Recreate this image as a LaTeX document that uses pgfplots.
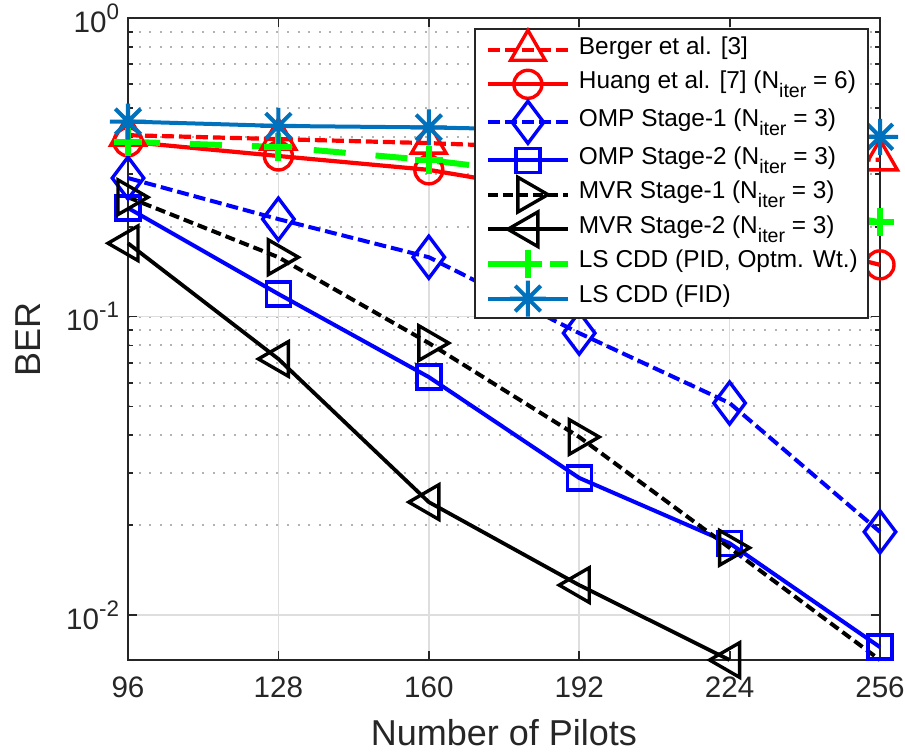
\documentclass[border=0pt]{standalone}
\usepackage{pgfplots}
\pgfplotsset{compat=1.18}
\usepackage{fontspec}
\setmainfont{Liberation Sans}

\definecolor{fidblue}{rgb}{0,0.447,0.741}
\definecolor{axisgray}{rgb}{0.15,0.15,0.15}

% subscript "iter" as set in the legend
\newcommand{\iter}{\raisebox{-4.5bp}{\fontsize{9.8bp}{10bp}\selectfont iter}}
% exponent of a decade tick label
\newcommand{\dexp}[1]{\raisebox{6.5bp}{\fontsize{11.2bp}{11bp}\selectfont #1}}

% eight-armed asterisk (plus and cross combined)
\pgfdeclareplotmark{star8}{%
  \pgfpathmoveto{\pgfqpoint{-\pgfplotmarksize}{0pt}}%
  \pgfpathlineto{\pgfqpoint{\pgfplotmarksize}{0pt}}%
  \pgfpathmoveto{\pgfqpoint{0pt}{-\pgfplotmarksize}}%
  \pgfpathlineto{\pgfqpoint{0pt}{\pgfplotmarksize}}%
  \pgfpathmoveto{\pgfqpoint{-0.707\pgfplotmarksize}{-0.707\pgfplotmarksize}}%
  \pgfpathlineto{\pgfqpoint{0.707\pgfplotmarksize}{0.707\pgfplotmarksize}}%
  \pgfpathmoveto{\pgfqpoint{-0.707\pgfplotmarksize}{0.707\pgfplotmarksize}}%
  \pgfpathlineto{\pgfqpoint{0.707\pgfplotmarksize}{-0.707\pgfplotmarksize}}%
  \pgfusepathqstroke}

\begin{document}
\begin{tikzpicture}
\begin{axis}[
  name=ax,
  scale only axis,
  width=376bp, height=321bp,
  xmin=96, xmax=256,
  ymode=log, ymin=0.00707, ymax=1,
  clip=false,
  xtick={96,128,160,192,224,256},
  ytick={0.01,0.1,1},
  yticklabels={10\dexp{-2},10\dexp{-1},10\dexp{0}},
  /pgf/number format/assume math mode=true,
  ticklabel style={font=\fontsize{14.8bp}{17bp}\selectfont, text=axisgray},
  xticklabel style={yshift=-5bp},
  yticklabel style={xshift=-1bp},
  axis line style={draw=axisgray, line width=0.9bp},
  every tick/.style={draw=axisgray, line width=0.9bp},
  major tick length=4.5bp, minor tick length=2.5bp,
  grid=both,
  xminorgrids=false,
  major grid style={draw=black!13, line width=0.8bp},
  minor grid style={draw=black!30, line width=1bp, dash pattern=on 1bp off 4.3bp},
  xlabel={Number of Pilots},
  ylabel={BER},
  label style={font=\fontsize{18bp}{21bp}\selectfont, text=axisgray},
  xlabel style={at={(axis description cs:0.5,-0.1137)}, anchor=center},
  ylabel style={at={(axis description cs:-0.133,0.5)}, anchor=center},
  legend style={
    at={(0.985,0.984)}, anchor=north east,
    draw=axisgray, line width=1bp, fill=white,
    font=\fontsize{12.2bp}{14bp}\selectfont,
    inner xsep=3bp, inner ysep=0.5bp,
    row sep=0bp,
    nodes={inner xsep=2bp, inner ysep=1.5bp, text height=9bp, text depth=5bp},
  },
  legend cell align=left,
  legend image code/.code={%
    \path (-2bp,0bp);
    \draw[mark repeat=2,mark phase=2,#1]
      plot coordinates {(0bp,0bp) (20bp,0bp) (40bp,0bp)};
    \path (42bp,0bp);},
]

% Berger et al. [3]
\addplot[color=red, line width=2.1bp, dash pattern=on 6bp off 2.5bp,
  mark=triangle, mark size=10bp, mark options={solid, line width=1.7bp}]
  coordinates {(96,0.405) (128,0.393) (160,0.381) (192,0.365) (224,0.35) (256,0.335)};
\addlegendentry{Berger et al. [3]}

% Huang et al. [7]
\addplot[color=red, line width=2.1bp,
  mark=o, mark size=7bp, mark options={solid, line width=1.7bp}]
  coordinates {(96,0.385) (128,0.345) (160,0.31) (192,0.255) (224,0.2) (256,0.149)};
\addlegendentry{Huang et al. [7] (N\iter{} = 6)}

% OMP Stage-1
\addplot[color=blue, line width=2bp, dash pattern=on 6bp off 2.5bp,
  mark=diamond, mark size=10.5bp, mark options={solid, line width=1.7bp}]
  coordinates {(96,0.291) (128,0.212) (160,0.158) (192,0.088) (224,0.0513) (256,0.019)};
\addlegendentry{OMP Stage-1 (N\iter{} = 3)}

% OMP Stage-2
\addplot[color=blue, line width=2bp,
  mark=square, mark size=6bp, mark options={solid, line width=1.7bp}]
  coordinates {(96,0.231) (128,0.119) (160,0.0627) (192,0.0288) (224,0.0174) (256,0.00781)};
\addlegendentry{OMP Stage-2 (N\iter{} = 3)}

% MVR Stage-1 (last point lies on the lower axis edge, no marker)
\addplot[color=black, line width=2bp, dash pattern=on 5bp off 2.5bp,
  mark=triangle, mark size=10bp, mark indices={1,2,3,4,5},
  mark options={solid, line width=1.7bp, rotate=-90},
  legend image post style={mark indices={2}}]
  coordinates {(96,0.251) (128,0.158) (160,0.0815) (192,0.0395) (224,0.0168) (256,0.00707)};
\addlegendentry{MVR Stage-1 (N\iter{} = 3)}

% MVR Stage-2
\addplot[color=black, line width=1.9bp,
  mark=triangle, mark size=10bp, mark options={solid, line width=1.7bp, rotate=90}]
  coordinates {(96,0.176) (128,0.0721) (160,0.0239) (192,0.0126) (224,0.00707)};
\addlegendentry{MVR Stage-2 (N\iter{} = 3)}

% LS CDD (PID, optimal weights)
\addplot[color=green, line width=3bp, dash pattern=on 16bp off 15bp,
  mark=+, mark size=7bp, mark options={solid, line width=3bp}]
  coordinates {(96,0.385) (128,0.37) (160,0.334) (192,0.291) (224,0.25) (256,0.207)};
\addlegendentry{LS CDD (PID, Optm. Wt.)}

% LS CDD (FID)
\addplot[color=fidblue, line width=2bp,
  mark=star8, mark size=9bp, mark options={solid, line width=2bp}]
  coordinates {(96,0.45) (128,0.435) (160,0.43) (192,0.42) (224,0.41) (256,0.4)};
\addlegendentry{LS CDD (FID)}

\end{axis}
\pgfresetboundingbox
\path[use as bounding box]
  ([xshift=-64bp,yshift=-46.5bp]ax.south west) rectangle
  ([xshift=12.5bp,yshift=9bp]ax.north east);
\end{tikzpicture}
\end{document}
